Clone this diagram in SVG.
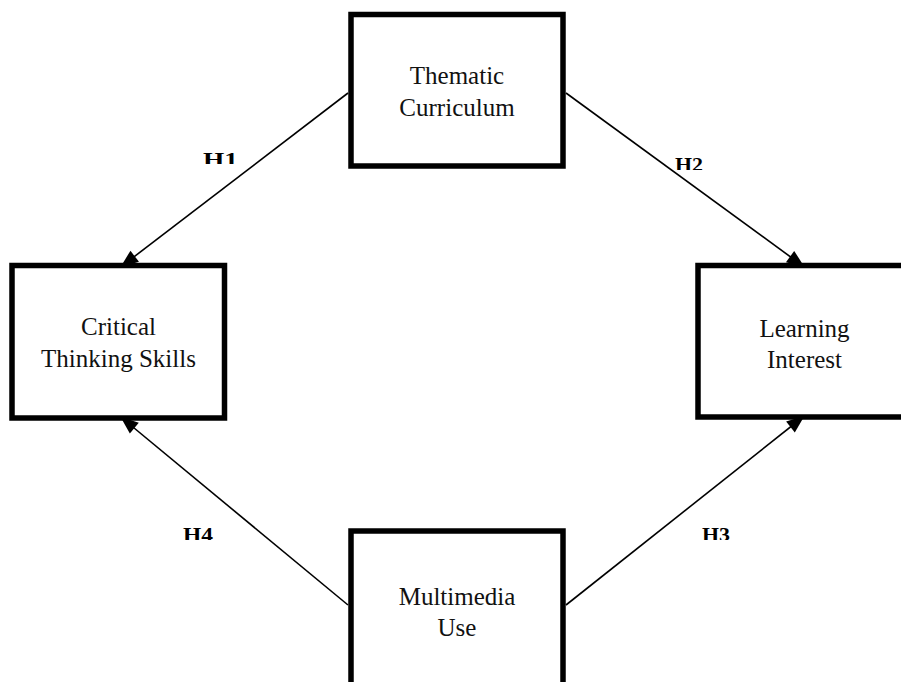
<svg xmlns="http://www.w3.org/2000/svg" width="901" height="682" viewBox="0 0 901 682">
<style>
.box{fill:#fff;stroke:#000;stroke-width:5.5}
.lbl{font-family:"Liberation Serif",serif;font-size:25px;fill:#111;text-anchor:middle}
.h{font-family:"Liberation Serif",serif;font-size:18px;font-weight:bold;fill:#000}
.conn{stroke:#000;stroke-width:1.6;fill:none;marker-end:url(#arr)}
</style>
<defs>
<marker id="arr" viewBox="0 0 18 14" refX="16" refY="7" markerWidth="18" markerHeight="14" markerUnits="userSpaceOnUse" orient="auto" overflow="visible">
<path d="M0,0 L18,7 L0,14 z" fill="#000"/>
</marker>
<clipPath id="c1"><rect x="195" y="140" width="60" height="24"/></clipPath>
<clipPath id="c2"><rect x="665" y="140" width="60" height="30"/></clipPath>
<clipPath id="c3"><rect x="690" y="515" width="60" height="25"/></clipPath>
<clipPath id="c4"><rect x="175" y="515" width="60" height="25"/></clipPath>
</defs>
<rect width="901" height="682" fill="#fff"/>
<g id="thematic">
<rect class="box" x="351" y="14.5" width="212" height="151.5"/>
<text class="lbl" x="457" y="84">Thematic</text>
<text class="lbl" x="457" y="116">Curriculum</text>
</g>
<g id="critical">
<rect class="box" x="12" y="265.5" width="212.5" height="152.5"/>
<text class="lbl" x="118.5" y="335">Critical</text>
<text class="lbl" x="118.5" y="367">Thinking Skills</text>
</g>
<g id="learning">
<rect class="box" x="698" y="265.5" width="213" height="151.5"/>
<text class="lbl" x="804.5" y="337">Learning</text>
<text class="lbl" x="804.5" y="368">Interest</text>
</g>
<g id="multimedia">
<rect class="box" x="351" y="531" width="212" height="160"/>
<text class="lbl" x="457" y="605">Multimedia</text>
<text class="lbl" x="457" y="636">Use</text>
</g>
<g id="connectors">
<line class="conn" x1="348" y1="93" x2="122" y2="266"/>
<line class="conn" x1="566" y1="93" x2="803" y2="266"/>
<line class="conn" x1="348" y1="605" x2="122" y2="418"/>
<line class="conn" x1="566" y1="605" x2="803" y2="417"/>
</g>
<g id="labels">
<text class="h" x="203" y="166" textLength="35" lengthAdjust="spacingAndGlyphs" clip-path="url(#c1)">H1</text>
<text class="h" x="675" y="171" textLength="28" lengthAdjust="spacingAndGlyphs" clip-path="url(#c2)">H2</text>
<text class="h" x="702" y="541" textLength="28" lengthAdjust="spacingAndGlyphs" clip-path="url(#c3)">H3</text>
<text class="h" x="183" y="541" textLength="30" lengthAdjust="spacingAndGlyphs" clip-path="url(#c4)">H4</text>
</g>
</svg>
